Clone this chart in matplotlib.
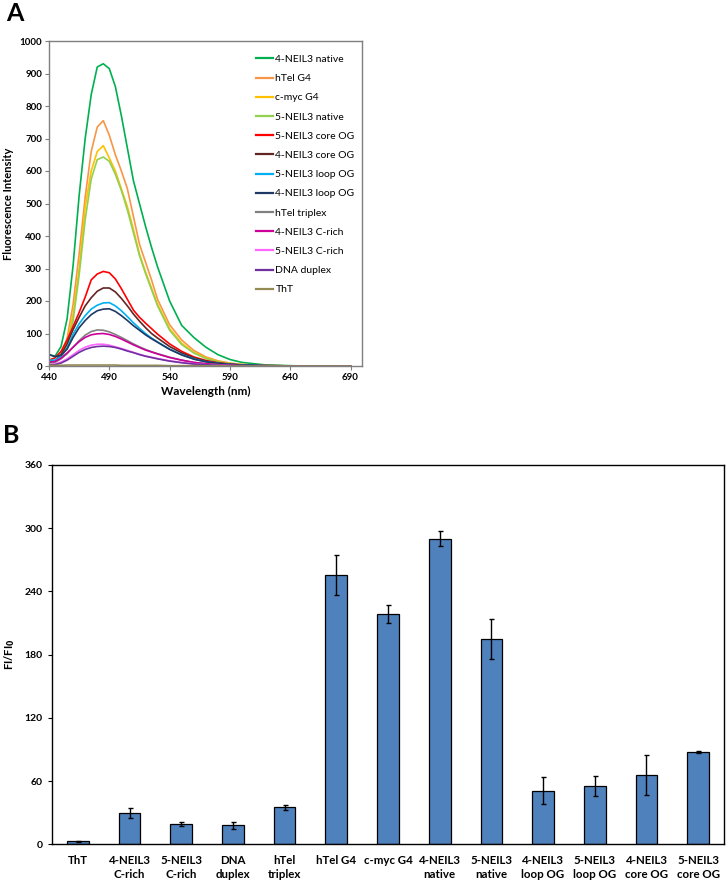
import matplotlib
matplotlib.use("Agg")
import matplotlib.pyplot as plt
import numpy as np

plt.rcParams["font.family"] = ["Lato", "DejaVu Sans"]

# ---------------------------------------------------------------
# Panel A data: emission spectra
# ---------------------------------------------------------------
wavelength = [440, 445, 450, 455, 460, 465, 470, 475, 480, 485, 490, 495, 500, 505,
              510, 515, 520, 525, 530, 540, 550, 560, 570, 580, 590, 600, 620, 650, 690]

neil4_native = [35, 30, 60, 145, 310, 525, 700, 835, 920, 930, 915, 860, 770, 670,
                570, 500, 430, 365, 305, 200, 125, 88, 58, 35, 20, 11, 3, 0, 0]
htel_g4 = [12, 15, 38, 85, 190, 345, 520, 660, 735, 755, 710, 650, 600, 545,
           460, 375, 320, 265, 205, 127, 80, 48, 28, 16, 9, 5, 1, 0, 0]
cmyc_g4 = [9, 12, 30, 70, 160, 300, 490, 600, 660, 678, 640, 600, 545, 490,
           420, 345, 290, 240, 190, 115, 70, 42, 25, 14, 8, 4, 1, 0, 0]
neil5_native = [7, 10, 25, 60, 140, 280, 450, 575, 635, 643, 630, 590, 540, 480,
                410, 340, 285, 235, 185, 110, 66, 40, 23, 13, 7, 4, 1, 0, 0]
neil5_core = [18, 25, 45, 80, 122, 165, 212, 265, 283, 291, 287, 268, 238, 205,
              172, 150, 132, 115, 98, 68, 45, 28, 17, 10, 6, 3, 1, 0, 0]
neil4_core = [14, 16, 35, 68, 112, 150, 185, 210, 230, 240, 240, 228, 208, 185,
              160, 138, 118, 100, 86, 60, 40, 25, 15, 9, 5, 3, 1, 0, 0]
neil5_loop = [18, 18, 30, 55, 98, 130, 155, 175, 187, 194, 195, 185, 170, 152,
              133, 116, 100, 86, 74, 52, 35, 22, 13, 8, 5, 3, 1, 0, 0]
neil4_loop = [35, 29, 33, 52, 88, 118, 140, 158, 170, 175, 176, 168, 155, 140,
              124, 110, 96, 84, 73, 51, 34, 21, 13, 8, 5, 3, 1, 0, 0]
htel_triplex = [10, 12, 22, 38, 58, 78, 95, 106, 111, 110, 105, 97, 88, 78,
                68, 59, 51, 44, 38, 27, 18, 11, 7, 4, 2, 1, 0, 0, 0]
neil4_crich = [12, 14, 24, 40, 58, 75, 88, 96, 99, 100, 97, 91, 83, 74,
               65, 57, 49, 43, 37, 26, 18, 11, 7, 4, 2, 1, 0, 0, 0]
neil5_crich = [5, 6, 12, 22, 35, 48, 58, 64, 67, 67, 64, 59, 54, 48,
               42, 36, 31, 27, 23, 16, 11, 7, 4, 2, 1, 0, 0, 0, 0]
dna_duplex = [3, 4, 9, 18, 30, 42, 51, 57, 60, 61, 60, 57, 52, 46,
              41, 35, 30, 26, 22, 15, 10, 6, 4, 2, 1, 0, 0, 0, 0]
tht = [2, 2, 2, 3, 3, 3, 3, 3, 3, 3, 3, 3, 2, 2,
       2, 2, 2, 2, 2, 1, 1, 1, 1, 1, 0, 0, 0, 0, 0]

spectra = [
    ("4-NEIL3 native", neil4_native, "#00B050"),
    ("hTel G4", htel_g4, "#F79646"),
    ("c-myc G4", cmyc_g4, "#FFC000"),
    ("5-NEIL3 native", neil5_native, "#92D050"),
    ("5-NEIL3 core OG", neil5_core, "#FF0000"),
    ("4-NEIL3 core OG", neil4_core, "#632523"),
    ("5-NEIL3 loop OG", neil5_loop, "#00B0F0"),
    ("4-NEIL3 loop OG", neil4_loop, "#1F3864"),
    ("hTel triplex", htel_triplex, "#808080"),
    ("4-NEIL3 C-rich", neil4_crich, "#CC0099"),
    ("5-NEIL3 C-rich", neil5_crich, "#FF66FF"),
    ("DNA duplex", dna_duplex, "#7030A0"),
    ("ThT", tht, "#948A54"),
]

# ---------------------------------------------------------------
# Panel B data: FI/FI0 bars with error bars
# ---------------------------------------------------------------
samples = ["ThT", "4-NEIL3\nC-rich", "5-NEIL3\nC-rich", "DNA\nduplex", "hTel\ntriplex",
           "hTel G4", "c-myc G4", "4-NEIL3\nnative", "5-NEIL3\nnative",
           "4-NEIL3\nloop OG", "5-NEIL3\nloop OG", "4-NEIL3\ncore OG", "5-NEIL3\ncore OG"]
ratio = [3, 30, 19, 18, 35, 256, 219, 290, 195, 51, 55, 66, 88]
ratio_err = [0.6, 4.7, 2, 3.5, 2, 19, 8.5, 7, 19, 12.5, 9.5, 19, 1]

fig = plt.figure(figsize=(7.28, 8.82), dpi=100)

# ---- panel A ----
axA = fig.add_axes([49 / 728, 1 - 366 / 882, 313 / 728, 325 / 882])
for name, vals, col in spectra:
    axA.plot(wavelength, vals, color=col, lw=1.2, label=name)
axA.set_xlim(440, 699.5)
axA.set_ylim(0, 1000)
axA.set_xticks(range(440, 700, 50))
axA.set_yticks(range(0, 1001, 100))
for s in axA.spines.values():
    s.set_color("#7f7f7f")
    s.set_linewidth(1.0)
axA.tick_params(direction="out", length=3, color="#7f7f7f", labelsize=7, pad=2)
for lab in axA.get_xticklabels() + axA.get_yticklabels():
    lab.set_fontweight("bold")
axA.set_xlabel("Wavelength (nm)", fontsize=8.5, fontweight="bold", labelpad=3)
axA.set_ylabel("Fluorescence Intensity", fontsize=8, fontweight="bold", labelpad=4)
leg = axA.legend(loc="upper right", bbox_to_anchor=(1.0, 0.98), frameon=False, fontsize=7.5,
                 handlelength=1.6, handletextpad=0.25, labelspacing=0.95, borderaxespad=0.3)
for ln in leg.get_lines():
    ln.set_linewidth(1.6)
fig.text(6 / 728, 1 - 2 / 882, "A", fontsize=18, fontweight="bold", va="top", ha="left")

# ---- panel B ----
axB = fig.add_axes([52 / 728, 1 - 844.3 / 882, 672 / 728, 379.3 / 882])
x = np.arange(len(samples))
axB.bar(x, ratio, width=0.42, color="#4F81BD", edgecolor="black", linewidth=0.9,
        yerr=ratio_err, error_kw=dict(ecolor="black", elinewidth=1.0, capsize=1.8, capthick=1.0))
axB.set_xlim(-0.5, len(samples) - 0.5)
axB.set_ylim(0, 360)
axB.set_yticks(range(0, 361, 60))
axB.set_xticks(x)
axB.set_xticklabels(samples, fontsize=8.3, fontweight="bold", linespacing=1.3)
for s in axB.spines.values():
    s.set_color("black")
    s.set_linewidth(1.0)
axB.tick_params(axis="y", direction="out", length=3, labelsize=7.5, pad=4)
axB.tick_params(axis="x", length=0, pad=8)
for lab in axB.get_yticklabels():
    lab.set_fontweight("bold")
axB.set_ylabel("FI/FI$_\\mathbf{0}$", fontsize=8, fontweight="bold", labelpad=5)
fig.text(3 / 728, 1 - 424 / 882, "B", fontsize=18, fontweight="bold", va="top", ha="left")

fig.savefig("out.png", dpi=100)
